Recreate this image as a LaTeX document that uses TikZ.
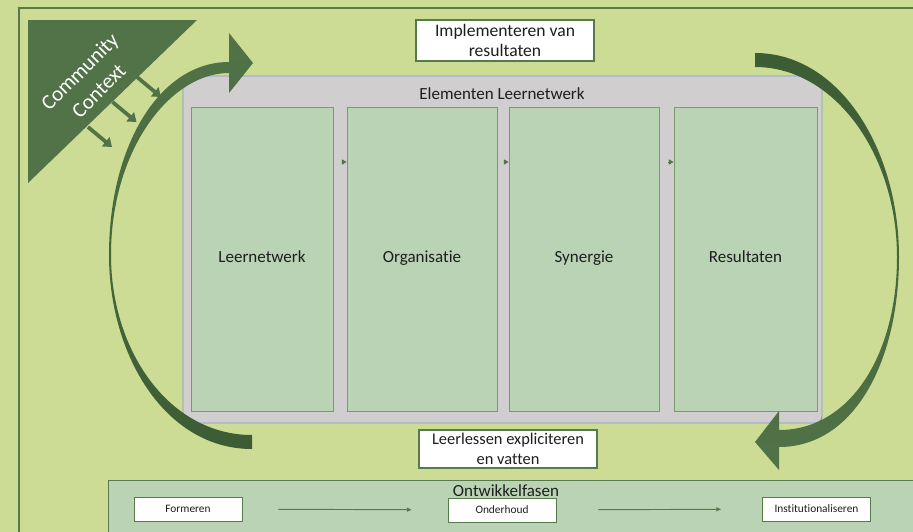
\documentclass[tikz,border=0pt]{standalone}
\usepackage{fontspec}
\setmainfont{Carlito}[Ligatures=NoCommon]
\usetikzlibrary{arrows.meta}
\definecolor{bg}{RGB}{205, 220, 149}
\definecolor{frm}{RGB}{86, 122, 74}
\definecolor{drk}{RGB}{81, 115, 71}
\definecolor{arc}{RGB}{60, 93, 52}
\definecolor{gry}{RGB}{208, 206, 206}
\definecolor{gbd}{RGB}{128, 150, 196}
\definecolor{elm}{RGB}{187, 211, 181}
\definecolor{ebd}{RGB}{122, 154, 106}
\definecolor{txt}{RGB}{30, 30, 30}

\tikzset{
    elem/.style={draw=ebd, fill=elm, line width=0.8pt, minimum height=9.12cm, text height=1.6ex, text depth=0.4ex, text=txt, font=\fontsize{14.5}{17}\selectfont},
    note/.style={draw=frm, fill=white, line width=1.6pt, align=center, inner sep=0pt, minimum width=5.34cm, text=txt},
    phase/.style={draw=frm, fill=white, line width=0.8pt, minimum width=3.24cm, minimum height=0.72cm, text height=1.6ex, text depth=0.4ex, text=txt, font=\fontsize{9.7}{11}\selectfont},
    push/.style={drk, line width=3.2pt, -{Triangle[length=7pt,width=10pt]}},
    nudge/.style={drk, line width=0.6pt, shorten <=0.27cm, -{Triangle[length=4pt,width=4.5pt]}},
    flow/.style={frm, line width=0.8pt, -{Triangle[length=4pt,width=3.5pt]}}
}

\begin{document}
\begin{tikzpicture}[x=0.03cm, y=-0.03cm]
    \useasboundingbox (0, 0) rectangle (913, 532);
    \clip (0, 0) rectangle (913, 532);
    \fill[bg] (0, 0) rectangle (913, 532);
    \draw[frm, line width=1.6pt] (19, 8) rectangle (940, 560);

    % community context
    \fill[drk] (28, 20) -- (197, 20) -- (28, 183) -- cycle;
    \node(cc) at (89, 81) [rotate=45, align=center, text=white, font=\fontsize{18}{23}\selectfont] {Community\\Context};
    \foreach \i in {0, 1, 2}
        \draw[push] (137-24.5*\i, 77+25*\i) -- ++(24, 20);

    % elements
    \node(el) at (502.5, 249.5) [draw=gbd, fill=gry, line width=0.8pt, rounded corners=6pt, minimum width=19.17cm, minimum height=10.41cm] {};
    \node(elt) at (502, 94) [text=txt, font=\fontsize{14.5}{17}\selectfont] {Elementen Leernetwerk};
    \node(ln) at (262, 259) [elem, minimum width=4.26cm] {Leernetwerk};
    \node(og) at (422, 259) [elem, minimum width=4.5cm] {Organisatie};
    \node(sy) at (584, 259) [elem, minimum width=4.5cm] {Synergie};
    \node(rs) at (745.5, 259) [elem, minimum width=4.29cm] {Resultaten};
    \draw[nudge] (ln.east |- 0, 162) -- (og.west |- 0, 162);
    \draw[nudge] (og.east |- 0, 162) -- (sy.west |- 0, 162);
    \draw[nudge] (sy.east |- 0, 162) -- (rs.west |- 0, 162);

    % cycle arrows
    \shade[top color=drk, bottom color=arc]
        (252, 449) .. controls (165, 449) and (109, 355) .. (109, 255)
        .. controls (109, 145) and (160, 62) .. (229, 62)
        -- (229, 33) -- (253, 63) -- (229, 93) -- (229, 73)
        .. controls (170, 73) and (111, 150) .. (111, 255)
        .. controls (111, 352) and (170, 435) .. (252, 435) -- cycle;
    \shade[top color=arc, bottom color=drk]
        (755, 53) .. controls (840, 53) and (899, 150) .. (899, 257)
        .. controls (899, 360) and (855, 447) .. (779, 447)
        -- (779, 470) -- (755, 442) -- (779, 411) -- (779, 430)
        .. controls (850, 430) and (897, 355) .. (897, 257)
        .. controls (897, 155) and (835, 67) .. (755, 67) -- cycle;

    \node(imp) at (505, 40.5) [note, minimum height=1.23cm, font=\fontsize{15}{16.5}\selectfont] {Implementeren van\\resultaten};
    \node(les) at (508, 449) [note, minimum height=1.14cm, font=\fontsize{14}{17}\selectfont] {Leerlessen expliciteren\\en vatten};

    % development phases
    \draw[frm, fill=elm, line width=0.8pt] (108, 480) rectangle (940, 560);
    \node(ow) at (506, 491) [text=txt, font=\fontsize{14.5}{17}\selectfont] {Ontwikkelfasen};
    \node(fo) at (188, 509) [phase] {Formeren};
    \node(oh) at (502, 510) [phase] {Onderhoud};
    \node(in) at (816.5, 509) [phase] {Institutionaliseren};
    \draw[flow, shorten <=1.08cm, shorten >=1.08cm] (fo) -- (oh);
    \draw[flow, shorten <=1.26cm, shorten >=1.23cm] (oh) -- (in);
\end{tikzpicture}
\end{document}
